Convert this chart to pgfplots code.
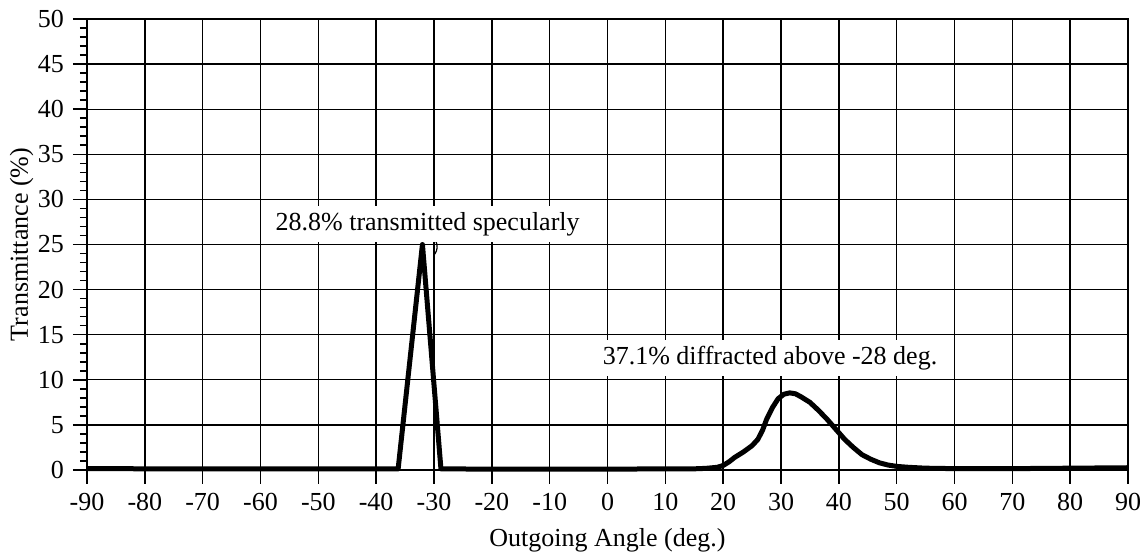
\documentclass[border=0pt]{standalone}
\usepackage{fontspec}
\setmainfont{Liberation Serif}
\usepackage{pgfplots}
\pgfplotsset{compat=1.18}
\begin{document}
\fontsize{13}{15}\selectfont
\begin{tikzpicture}
\begin{axis}[
    scale only axis,
    width=520.5pt, height=225.5pt,
    xmin=-90, xmax=90, ymin=0, ymax=50,
    xtick={-90,-80,...,90},
    ytick={0,5,...,50},
    xticklabels={-90,-80,-70,-60,-50,-40,-30,-20,-10,0,10,20,30,40,50,60,70,80,90},
    yticklabels={0,5,10,15,20,25,30,35,40,45,50},
    minor y tick num=4,
    tick align=outside, tick pos=left,
    major tick length=7pt, minor tick length=3.5pt,
    every tick/.append style={black, line width=0.8pt},
    grid=major,
    major grid style={black, line width=0.7pt},
    axis line style={line width=1pt},
    ticklabel style={font=\fontsize{13}{15}\selectfont},
    xlabel={Outgoing Angle (deg.)},
    ylabel={Transmittance (\%)},
    xlabel style={at={(axis description cs:0.5,0)}, anchor=base, yshift=-38.5pt, font=\fontsize{13}{15}\selectfont},
    ylabel style={at={(axis description cs:0,0.5)}, anchor=base, yshift=29.5pt, font=\fontsize{13}{15}\selectfont},
    clip=false,
]
% measured transmittance curve
\addplot[black, line width=2.5pt, line join=round] coordinates {
    (-90,0.15)(-70,0.12)(-50,0.12)(-40,0.12)(-36.2,0.12)
    (-32,25)
    (-28.8,0.12)(-20,0.1)(-10,0.1)(0,0.1)(10,0.12)(15,0.13)(17,0.18)
    (19,0.3)(20,0.5)(21,0.9)(22,1.4)(23.5,2.0)(25,2.7)(26,3.4)(26.8,4.4)
    (27.5,5.6)(28.5,6.9)(29.5,7.9)(30.5,8.4)(31.5,8.55)(32.5,8.45)(33.5,8.1)
    (35,7.5)(36.5,6.6)(38,5.6)(39.5,4.5)(41,3.4)(42.5,2.5)(44,1.7)(45.5,1.2)
    (47,0.8)(48.5,0.55)(50,0.4)(52,0.3)(55,0.2)(60,0.15)(70,0.15)(80,0.2)(90,0.25)
};
\draw[black, line width=0.6pt] (axis cs:-29.7,25.4) to[bend left=30] (axis cs:-29.9,23.9);
\node[fill=white, inner sep=3pt, anchor=base] at (axis cs:-31.1,26.6) {28.8\% transmitted specularly};
\node[fill=white, inner sep=3pt, anchor=base] at (axis cs:28.1,11.75) {37.1\% diffracted above -28 deg.};
\coordinate (SW) at (rel axis cs:0,0);
\coordinate (NE) at (rel axis cs:1,1);
\end{axis}
\pgfresetboundingbox
\path[use as bounding box] ([shift={(-43.5pt,-43pt)}]SW) rectangle ([shift={(10pt,9.5pt)}]NE);
\end{tikzpicture}
\end{document}
